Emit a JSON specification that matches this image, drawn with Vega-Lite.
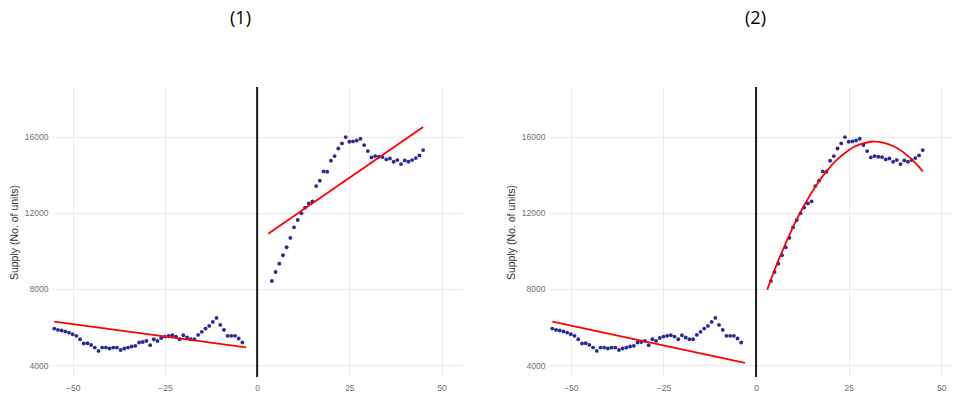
{
  "$schema": "https://vega.github.io/schema/vega-lite/v6.json",
  "background": "white",
  "padding": {"left": 9, "top": 10, "right": 0, "bottom": 0},
  "spacing": 43,
  "datasets": {
    "pts": [
      {"x": -55, "y": 5920}, {"x": -54, "y": 5850}, {"x": -53, "y": 5820}, {"x": -52, "y": 5765},
      {"x": -51, "y": 5710}, {"x": -50, "y": 5625}, {"x": -49, "y": 5540}, {"x": -48, "y": 5360},
      {"x": -47, "y": 5135}, {"x": -46, "y": 5150}, {"x": -45, "y": 5065}, {"x": -44, "y": 4925},
      {"x": -43, "y": 4750}, {"x": -42, "y": 4925}, {"x": -41, "y": 4925}, {"x": -40, "y": 4875},
      {"x": -39, "y": 4925}, {"x": -38, "y": 4925}, {"x": -37, "y": 4800}, {"x": -36, "y": 4875},
      {"x": -35, "y": 4925}, {"x": -34, "y": 4980}, {"x": -33, "y": 5015}, {"x": -32, "y": 5190},
      {"x": -31, "y": 5220}, {"x": -30, "y": 5275}, {"x": -29, "y": 5050}, {"x": -28, "y": 5360},
      {"x": -27, "y": 5275}, {"x": -26, "y": 5430}, {"x": -25, "y": 5500}, {"x": -24, "y": 5540},
      {"x": -23, "y": 5570}, {"x": -22, "y": 5500}, {"x": -21, "y": 5360}, {"x": -20, "y": 5570},
      {"x": -19, "y": 5450}, {"x": -18, "y": 5360}, {"x": -17, "y": 5360}, {"x": -16, "y": 5590},
      {"x": -15, "y": 5750}, {"x": -14, "y": 5920}, {"x": -13, "y": 6060}, {"x": -12, "y": 6270},
      {"x": -11, "y": 6480}, {"x": -10, "y": 6115}, {"x": -9, "y": 5850}, {"x": -8, "y": 5540},
      {"x": -7, "y": 5540}, {"x": -6, "y": 5540}, {"x": -5, "y": 5400}, {"x": -4, "y": 5190},
      {"x": 4, "y": 8420}, {"x": 5, "y": 8890}, {"x": 6, "y": 9330}, {"x": 7, "y": 9770},
      {"x": 8, "y": 10190}, {"x": 9, "y": 10680}, {"x": 10, "y": 11235}, {"x": 11, "y": 11620},
      {"x": 12, "y": 11970}, {"x": 13, "y": 12270}, {"x": 14, "y": 12490}, {"x": 15, "y": 12600},
      {"x": 16, "y": 13400}, {"x": 17, "y": 13680}, {"x": 18, "y": 14170}, {"x": 19, "y": 14150},
      {"x": 20, "y": 14730}, {"x": 21, "y": 14975}, {"x": 22, "y": 15375}, {"x": 23, "y": 15640},
      {"x": 24, "y": 15970}, {"x": 25, "y": 15725}, {"x": 26, "y": 15745}, {"x": 27, "y": 15795},
      {"x": 28, "y": 15885}, {"x": 29, "y": 15550}, {"x": 30, "y": 15235}, {"x": 31, "y": 14905},
      {"x": 32, "y": 14975}, {"x": 33, "y": 14940}, {"x": 34, "y": 14920}, {"x": 35, "y": 14800},
      {"x": 36, "y": 14850}, {"x": 37, "y": 14675}, {"x": 38, "y": 14765}, {"x": 39, "y": 14555},
      {"x": 40, "y": 14745}, {"x": 41, "y": 14675}, {"x": 42, "y": 14765}, {"x": 43, "y": 14870},
      {"x": 44, "y": 15010}, {"x": 45, "y": 15290}
    ],
    "fit1": [
      {"x": -55, "y": 6290, "seg": "L"}, {"x": -3, "y": 4930, "seg": "L"},
      {"x": 3, "y": 10900, "seg": "R"}, {"x": 45, "y": 16500, "seg": "R"}
    ],
    "fit2": [
      {"x": -55, "y": 6280, "seg": "L"}, {"x": -3, "y": 4120, "seg": "L"},
      {"x": 3, "y": 7957, "seg": "R"}, {"x": 6, "y": 9483, "seg": "R"}, {"x": 10, "y": 11259, "seg": "R"},
      {"x": 13, "y": 12397, "seg": "R"}, {"x": 16, "y": 13368, "seg": "R"}, {"x": 19, "y": 14173, "seg": "R"},
      {"x": 22, "y": 14811, "seg": "R"}, {"x": 25, "y": 15283, "seg": "R"}, {"x": 28, "y": 15588, "seg": "R"},
      {"x": 31, "y": 15727, "seg": "R"}, {"x": 32, "y": 15736, "seg": "R"}, {"x": 34, "y": 15699, "seg": "R"},
      {"x": 37, "y": 15505, "seg": "R"}, {"x": 40, "y": 15144, "seg": "R"}, {"x": 43, "y": 14617, "seg": "R"},
      {"x": 45, "y": 14173, "seg": "R"}
    ],
    "cut": [{"x": 0}]
  },
  "config": {
    "view": {"stroke": null},
    "axis": {
      "grid": true,
      "gridColor": "#ebebeb",
      "gridWidth": 1,
      "domain": false,
      "ticks": false,
      "labelFont": "Liberation Sans",
      "labelFontSize": 8.5,
      "labelColor": "#707070",
      "labelPadding": 4,
      "titleFont": "Liberation Sans",
      "titleFontSize": 10.5,
      "titleFontWeight": "normal",
      "titleColor": "#333333",
      "titlePadding": 5
    },
    "axisX": {"labelPadding": 6},
    "title": {
      "font": "Open Sans",
      "fontSize": 18,
      "fontWeight": "normal",
      "color": "#000000",
      "anchor": "middle",
      "frame": "group",
      "offset": 58
    }
  },
  "hconcat": [
    {
      "width": 411,
      "height": 290,
      "title": {"text": "(1)", "dx": -17},
      "layer": [
        {
          "data": {"name": "pts"},
          "mark": {"type": "circle", "size": 15, "opacity": 1, "color": "#2a2a96"},
          "encoding": {
            "x": {"field": "x", "type": "quantitative", "scale": {"domain": [-55.6, 55.8], "nice": false, "zero": false},
                  "axis": {"values": [-50, -25, 0, 25, 50], "title": null}},
            "y": {"field": "y", "type": "quantitative", "scale": {"domain": [3380, 18600], "nice": false, "zero": false},
                  "axis": {"values": [4000, 8000, 12000, 16000], "format": "d", "title": "Supply (No. of units)"}}
          }
        },
        {
          "data": {"name": "fit1"},
          "mark": {"type": "line", "color": "#ff0000", "strokeWidth": 1.8},
          "encoding": {
            "x": {"field": "x", "type": "quantitative"},
            "y": {"field": "y", "type": "quantitative"},
            "detail": {"field": "seg"}
          }
        },
        {
          "data": {"name": "cut"},
          "mark": {"type": "rule", "color": "#1a1a1a", "strokeWidth": 2},
          "encoding": {"x": {"field": "x", "type": "quantitative"}}
        }
      ]
    },
    {
      "width": 403,
      "height": 290,
      "title": {"text": "(2)", "dx": 5},
      "layer": [
        {
          "data": {"name": "pts"},
          "mark": {"type": "circle", "size": 15, "opacity": 1, "color": "#2a2a96"},
          "encoding": {
            "x": {"field": "x", "type": "quantitative", "scale": {"domain": [-55.9, 52.9], "nice": false, "zero": false},
                  "axis": {"values": [-50, -25, 0, 25, 50], "title": null}},
            "y": {"field": "y", "type": "quantitative", "scale": {"domain": [3380, 18600], "nice": false, "zero": false},
                  "axis": {"values": [4000, 8000, 12000, 16000], "format": "d", "title": "Supply (No. of units)"}}
          }
        },
        {
          "data": {"name": "fit2"},
          "mark": {"type": "line", "color": "#ff0000", "strokeWidth": 1.8, "interpolate": "natural"},
          "encoding": {
            "x": {"field": "x", "type": "quantitative"},
            "y": {"field": "y", "type": "quantitative"},
            "detail": {"field": "seg"}
          }
        },
        {
          "data": {"name": "cut"},
          "mark": {"type": "rule", "color": "#1a1a1a", "strokeWidth": 2},
          "encoding": {"x": {"field": "x", "type": "quantitative"}}
        }
      ]
    }
  ]
}
